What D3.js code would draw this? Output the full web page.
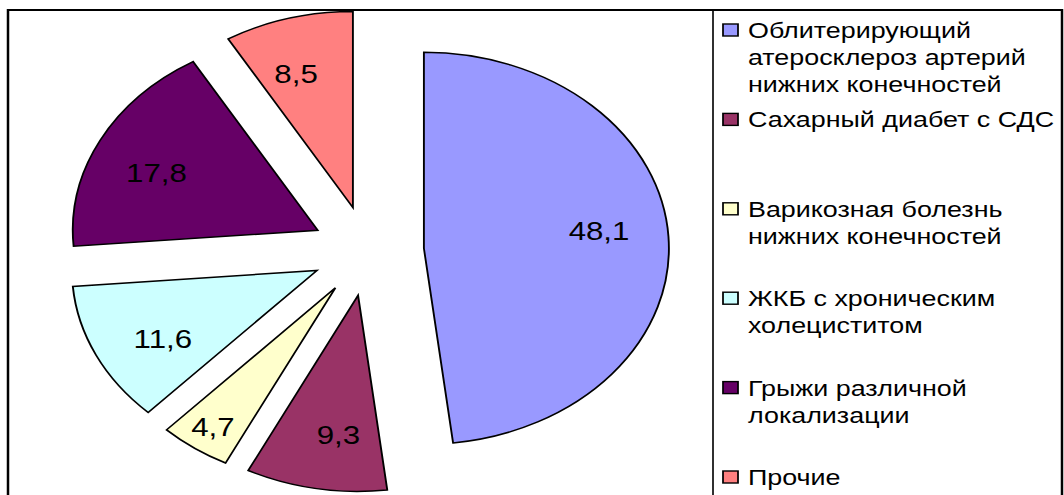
<!DOCTYPE html>
<html>
<head>
<meta charset="utf-8">
<script src="https://cdn.jsdelivr.net/npm/d3@7"></script>
<style>
  html, body { margin: 0; padding: 0; background: #fff; }
  svg { display: block; }
  text { font-family: "Liberation Sans", Arial, sans-serif; fill: #000; }
</style>
</head>
<body>
<svg id="chart" width="1064" height="495"></svg>
<script>
// Structure of cases, %
const categories = [
  "Облитерирующий атеросклероз артерий нижних конечностей",
  "Сахарный диабет с СДС",
  "Варикозная болезнь нижних конечностей",
  "ЖКБ с хроническим холециститом",
  "Грыжи различной локализации",
  "Прочие"
];
const values = [48.1, 9.3, 4.7, 11.6, 17.8, 8.5];
const valueLabels = ["48,1", "9,3", "4,7", "11,6", "17,8", "8,5"];
// Legend text broken into lines
const legendLines = [
  ["Облитерирующий", "атеросклероз артерий", "нижних конечностей"],
  ["Сахарный диабет с СДС"],
  ["Варикозная болезнь", "нижних конечностей"],
  ["ЖКБ с хроническим", "холециститом"],
  ["Грыжи различной", "локализации"],
  ["Прочие"]
];
const colors = ["#9999FF", "#993366", "#FFFFCC", "#CCFFFF", "#660066", "#FF8080"];

const svg = d3.select("#chart");
// The whole drawing is laid out on an 851-wide canvas and stretched 1.25x horizontally
const root = svg.append("g").attr("transform", "scale(1.25,1)");

// Outer frame and legend divider
root.append("rect")
  .attr("x", 6.4).attr("y", 10).attr("width", 843.2).attr("height", 500)
  .attr("fill", "none").attr("stroke", "#000").attr("stroke-width", 2);
root.append("line")
  .attr("x1", 570.4).attr("x2", 570.4).attr("y1", 10).attr("y2", 500)
  .attr("stroke", "#000").attr("stroke-width", 1.3);

// Pie
const R = 196, explode = 45;
const cx = 294.2, cy = 251;
const pie = d3.pie().sort(null).value(d => d);
const arcs = pie(values);
const arc = d3.arc().innerRadius(0).outerRadius(R);
const color = d3.scaleOrdinal().domain(d3.range(values.length)).range(colors);

const pieG = root.append("g").attr("transform", `translate(${cx},${cy})`);
const slice = pieG.selectAll("g.slice").data(arcs).join("g")
  .attr("class", "slice")
  .attr("transform", d => {
    const m = (d.startAngle + d.endAngle) / 2;
    return `translate(${Math.sin(m) * explode},${-Math.cos(m) * explode})`;
  });

slice.append("path")
  .attr("d", arc)
  .attr("fill", (d, i) => color(i))
  .attr("stroke", "#000")
  .attr("stroke-width", 1.5)
  .attr("stroke-linejoin", "miter");

// Value labels: near each slice's bisector, narrow slices further out
const labelTurn = -3.5 * Math.PI / 180;
slice.append("text")
  .attr("transform", d => {
    const share = d.value / d3.sum(values);
    const narrow = share < 0.06;
    const m = (d.startAngle + d.endAngle) / 2 + (narrow ? 0 : labelTurn);
    const r = R * (narrow ? 0.87 : 0.72);
    return `translate(${Math.sin(m) * r},${-Math.cos(m) * r})`;
  })
  .attr("text-anchor", "middle")
  .attr("dy", "0.35em")
  .attr("font-size", 25)
  .text((d, i) => valueLabels[i]);

// Legend
const legendY = d3.scalePoint().domain(d3.range(categories.length)).range([30, 477]);
const lineH = 27;
const item = root.append("g").selectAll("g").data(categories).join("g")
  .attr("transform", (d, i) => `translate(0,${legendY(i)})`);

item.append("rect")
  .attr("x", 578.4).attr("y", -6).attr("width", 12).attr("height", 12)
  .attr("fill", (d, i) => color(i))
  .attr("stroke", "#000").attr("stroke-width", 1.4);

item.append("text")
  .attr("font-size", 21.5)
  .selectAll("tspan").data((d, i) => legendLines[i]).join("tspan")
  .attr("x", 598.4)
  .attr("y", (d, j) => 8 + j * lineH)
  .text(d => d);
</script>
</body>
</html>
